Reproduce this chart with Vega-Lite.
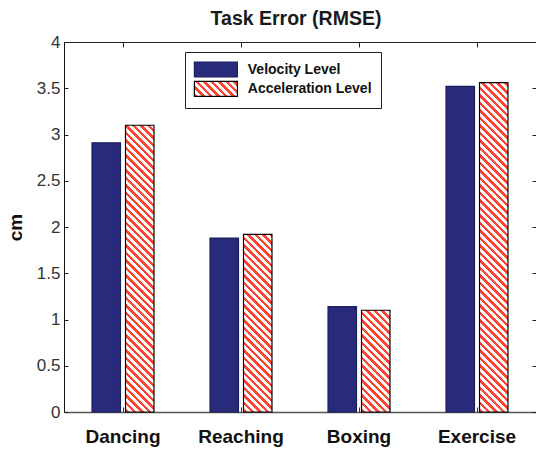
{
"$schema": "https://vega.github.io/schema/vega-lite/v6.json",
"width": 472, "height": 370,
"autosize": {"type": "none"},
"padding": {"left": 64, "top": 42, "right": 0, "bottom": 37},
"background": "white",
"params": [{"name": "stops", "value": [
{"offset":0,"color":"#f43"},
{"offset":0.01042,"color":"#f43"},{"offset":0.01042,"color":"#fff"},
{"offset":0.02083,"color":"#fff"},{"offset":0.02083,"color":"#f43"},
{"offset":0.03125,"color":"#f43"},{"offset":0.03125,"color":"#fff"},
{"offset":0.04167,"color":"#fff"},{"offset":0.04167,"color":"#f43"},
{"offset":0.05208,"color":"#f43"},{"offset":0.05208,"color":"#fff"},
{"offset":0.0625,"color":"#fff"},{"offset":0.0625,"color":"#f43"},
{"offset":0.07292,"color":"#f43"},{"offset":0.07292,"color":"#fff"},
{"offset":0.08333,"color":"#fff"},{"offset":0.08333,"color":"#f43"},
{"offset":0.09375,"color":"#f43"},{"offset":0.09375,"color":"#fff"},
{"offset":0.10417,"color":"#fff"},{"offset":0.10417,"color":"#f43"},
{"offset":0.11458,"color":"#f43"},{"offset":0.11458,"color":"#fff"},
{"offset":0.125,"color":"#fff"},{"offset":0.125,"color":"#f43"},
{"offset":0.13542,"color":"#f43"},{"offset":0.13542,"color":"#fff"},
{"offset":0.14583,"color":"#fff"},{"offset":0.14583,"color":"#f43"},
{"offset":0.15625,"color":"#f43"},{"offset":0.15625,"color":"#fff"},
{"offset":0.16667,"color":"#fff"},{"offset":0.16667,"color":"#f43"},
{"offset":0.17708,"color":"#f43"},{"offset":0.17708,"color":"#fff"},
{"offset":0.1875,"color":"#fff"},{"offset":0.1875,"color":"#f43"},
{"offset":0.19792,"color":"#f43"},{"offset":0.19792,"color":"#fff"},
{"offset":0.20833,"color":"#fff"},{"offset":0.20833,"color":"#f43"},
{"offset":0.21875,"color":"#f43"},{"offset":0.21875,"color":"#fff"},
{"offset":0.22917,"color":"#fff"},{"offset":0.22917,"color":"#f43"},
{"offset":0.23958,"color":"#f43"},{"offset":0.23958,"color":"#fff"},
{"offset":0.25,"color":"#fff"},{"offset":0.25,"color":"#f43"},
{"offset":0.26042,"color":"#f43"},{"offset":0.26042,"color":"#fff"},
{"offset":0.27083,"color":"#fff"},{"offset":0.27083,"color":"#f43"},
{"offset":0.28125,"color":"#f43"},{"offset":0.28125,"color":"#fff"},
{"offset":0.29167,"color":"#fff"},{"offset":0.29167,"color":"#f43"},
{"offset":0.30208,"color":"#f43"},{"offset":0.30208,"color":"#fff"},
{"offset":0.3125,"color":"#fff"},{"offset":0.3125,"color":"#f43"},
{"offset":0.32292,"color":"#f43"},{"offset":0.32292,"color":"#fff"},
{"offset":0.33333,"color":"#fff"},{"offset":0.33333,"color":"#f43"},
{"offset":0.34375,"color":"#f43"},{"offset":0.34375,"color":"#fff"},
{"offset":0.35417,"color":"#fff"},{"offset":0.35417,"color":"#f43"},
{"offset":0.36458,"color":"#f43"},{"offset":0.36458,"color":"#fff"},
{"offset":0.375,"color":"#fff"},{"offset":0.375,"color":"#f43"},
{"offset":0.38542,"color":"#f43"},{"offset":0.38542,"color":"#fff"},
{"offset":0.39583,"color":"#fff"},{"offset":0.39583,"color":"#f43"},
{"offset":0.40625,"color":"#f43"},{"offset":0.40625,"color":"#fff"},
{"offset":0.41667,"color":"#fff"},{"offset":0.41667,"color":"#f43"},
{"offset":0.42708,"color":"#f43"},{"offset":0.42708,"color":"#fff"},
{"offset":0.4375,"color":"#fff"},{"offset":0.4375,"color":"#f43"},
{"offset":0.44792,"color":"#f43"},{"offset":0.44792,"color":"#fff"},
{"offset":0.45833,"color":"#fff"},{"offset":0.45833,"color":"#f43"},
{"offset":0.46875,"color":"#f43"},{"offset":0.46875,"color":"#fff"},
{"offset":0.47917,"color":"#fff"},{"offset":0.47917,"color":"#f43"},
{"offset":0.48958,"color":"#f43"},{"offset":0.48958,"color":"#fff"},
{"offset":0.5,"color":"#fff"},{"offset":0.5,"color":"#f43"},
{"offset":0.51042,"color":"#f43"},{"offset":0.51042,"color":"#fff"},
{"offset":0.52083,"color":"#fff"},{"offset":0.52083,"color":"#f43"},
{"offset":0.53125,"color":"#f43"},{"offset":0.53125,"color":"#fff"},
{"offset":0.54167,"color":"#fff"},{"offset":0.54167,"color":"#f43"},
{"offset":0.55208,"color":"#f43"},{"offset":0.55208,"color":"#fff"},
{"offset":0.5625,"color":"#fff"},{"offset":0.5625,"color":"#f43"},
{"offset":0.57292,"color":"#f43"},{"offset":0.57292,"color":"#fff"},
{"offset":0.58333,"color":"#fff"},{"offset":0.58333,"color":"#f43"},
{"offset":0.59375,"color":"#f43"},{"offset":0.59375,"color":"#fff"},
{"offset":0.60417,"color":"#fff"},{"offset":0.60417,"color":"#f43"},
{"offset":0.61458,"color":"#f43"},{"offset":0.61458,"color":"#fff"},
{"offset":0.625,"color":"#fff"},{"offset":0.625,"color":"#f43"},
{"offset":0.63542,"color":"#f43"},{"offset":0.63542,"color":"#fff"},
{"offset":0.64583,"color":"#fff"},{"offset":0.64583,"color":"#f43"},
{"offset":0.65625,"color":"#f43"},{"offset":0.65625,"color":"#fff"},
{"offset":0.66667,"color":"#fff"},{"offset":0.66667,"color":"#f43"},
{"offset":0.67708,"color":"#f43"},{"offset":0.67708,"color":"#fff"},
{"offset":0.6875,"color":"#fff"},{"offset":0.6875,"color":"#f43"},
{"offset":0.69792,"color":"#f43"},{"offset":0.69792,"color":"#fff"},
{"offset":0.70833,"color":"#fff"},{"offset":0.70833,"color":"#f43"},
{"offset":0.71875,"color":"#f43"},{"offset":0.71875,"color":"#fff"},
{"offset":0.72917,"color":"#fff"},{"offset":0.72917,"color":"#f43"},
{"offset":0.73958,"color":"#f43"},{"offset":0.73958,"color":"#fff"},
{"offset":0.75,"color":"#fff"},{"offset":0.75,"color":"#f43"},
{"offset":0.76042,"color":"#f43"},{"offset":0.76042,"color":"#fff"},
{"offset":0.77083,"color":"#fff"},{"offset":0.77083,"color":"#f43"},
{"offset":0.78125,"color":"#f43"},{"offset":0.78125,"color":"#fff"},
{"offset":0.79167,"color":"#fff"},{"offset":0.79167,"color":"#f43"},
{"offset":0.80208,"color":"#f43"},{"offset":0.80208,"color":"#fff"},
{"offset":0.8125,"color":"#fff"},{"offset":0.8125,"color":"#f43"},
{"offset":0.82292,"color":"#f43"},{"offset":0.82292,"color":"#fff"},
{"offset":0.83333,"color":"#fff"},{"offset":0.83333,"color":"#f43"},
{"offset":0.84375,"color":"#f43"},{"offset":0.84375,"color":"#fff"},
{"offset":0.85417,"color":"#fff"},{"offset":0.85417,"color":"#f43"},
{"offset":0.86458,"color":"#f43"},{"offset":0.86458,"color":"#fff"},
{"offset":0.875,"color":"#fff"},{"offset":0.875,"color":"#f43"},
{"offset":0.88542,"color":"#f43"},{"offset":0.88542,"color":"#fff"},
{"offset":0.89583,"color":"#fff"},{"offset":0.89583,"color":"#f43"},
{"offset":0.90625,"color":"#f43"},{"offset":0.90625,"color":"#fff"},
{"offset":0.91667,"color":"#fff"},{"offset":0.91667,"color":"#f43"},
{"offset":0.92708,"color":"#f43"},{"offset":0.92708,"color":"#fff"},
{"offset":0.9375,"color":"#fff"},{"offset":0.9375,"color":"#f43"},
{"offset":0.94792,"color":"#f43"},{"offset":0.94792,"color":"#fff"},
{"offset":0.95833,"color":"#fff"},{"offset":0.95833,"color":"#f43"},
{"offset":0.96875,"color":"#f43"},{"offset":0.96875,"color":"#fff"},
{"offset":0.97917,"color":"#fff"},{"offset":0.97917,"color":"#f43"},
{"offset":0.98958,"color":"#f43"},{"offset":0.98958,"color":"#fff"},
{"offset":1,"color":"#fff"}
]}],
"title": {"text": "Task Error (RMSE)", "frame": "group", "anchor": "middle", "baseline": "alphabetic", "offset": -11, "dx": -4, "font": "Liberation Sans", "fontSize": 19.5, "fontWeight": "bold", "color": "#1a1a1a"},
"data": {"values": [
{"activity":"Dancing","series":"Velocity Level","value":2.91},
{"activity":"Dancing","series":"Acceleration Level","value":3.10},
{"activity":"Reaching","series":"Velocity Level","value":1.88},
{"activity":"Reaching","series":"Acceleration Level","value":1.92},
{"activity":"Boxing","series":"Velocity Level","value":1.14},
{"activity":"Boxing","series":"Acceleration Level","value":1.10},
{"activity":"Exercise","series":"Velocity Level","value":3.52},
{"activity":"Exercise","series":"Acceleration Level","value":3.56}
]},
"layer": [
{"mark": {"type": "bar", "strokeWidth": 1.2,
  "fill": {"expr": "datum.series === 'Acceleration Level' ? {gradient: 'linear', x1: 0, y1: 1, x2: 360*bandwidth('xOffset')/(pow(bandwidth('xOffset'),2)+pow(scale('y',0)-scale('y',datum.value),2)), y2: 1-360*(scale('y',0)-scale('y',datum.value))/(pow(bandwidth('xOffset'),2)+pow(scale('y',0)-scale('y',datum.value),2)), stops: stops} : (datum.value === 'Acceleration Level' || datum.label === 'Acceleration Level') ? {gradient: 'linear', x1: 0, y1: 1, x2: 7.464, y2: -1.6037, stops: stops} : '#282b7a'"}},
 "encoding": {
  "x": {"field": "activity", "type": "nominal",
        "scale": {"domain": ["Dancing","Reaching","Boxing","Exercise"], "paddingInner": 0.475, "paddingOuter": 0.2375},
        "axis": {"orient": "bottom", "title": null, "labelFont": "Liberation Sans", "labelFontSize": 19, "labelFontWeight": "bold", "labelColor": "#111", "labelAngle": 0, "labelPadding": 20, "tickSize": -5, "tickColor": "#333", "domainColor": "#555", "domainWidth": 1.5, "grid": false}},
  "xOffset": {"field": "series", "type": "nominal", "scale": {"domain": ["Velocity Level","Acceleration Level"], "paddingInner": 0.15, "paddingOuter": 0}},
  "y": {"field": "value", "type": "quantitative",
        "scale": {"domain": [0,4], "nice": false, "zero": true},
        "axis": {"orient": "left", "title": "cm", "titleFont": "Liberation Sans", "titleFontSize": 19, "titleFontWeight": "bold", "titleColor": "#111", "titlePadding": 11,
                 "labelFont": "Liberation Sans", "labelFontSize": 17, "labelColor": "#333", "labelPadding": 8, "tickSize": -4, "tickColor": "#222", "domainColor": "#111",
                 "values": [0,0.5,1,1.5,2,2.5,3,3.5,4], "format": ".1~f", "grid": false}},
  "stroke": {"field": "series", "type": "nominal",
        "scale": {"domain": ["Velocity Level","Acceleration Level"], "range": ["#1c1e5e","#000000"]},
        "legend": {"title": null, "orient": "none", "legendX": 121, "legendY": 10, "direction": "vertical", "padding": 9,
                   "fillColor": "white", "strokeColor": "#222",
                   "symbolType": "M-2.867,-1H2.867V1H-2.867Z", "symbolSize": 225, "symbolStrokeWidth": 1.2, "symbolOffset": 13.4,
                   "labelFont": "Liberation Sans", "labelFontSize": 14, "labelFontWeight": "bold", "labelColor": "#111", "labelOffset": 23.4, "rowPadding": -1.7, "labelLimit": 300,
                   "encode": {"symbols": {"update": {"fillOpacity": {"value": 1}}}}}}
 }},
{"mark": {"type": "point", "opacity": 0},
 "encoding": {
  "x": {"field": "activity", "type": "nominal", "axis": {"orient": "top", "title": null, "labels": false, "tickSize": -5, "tickColor": "#222", "domainColor": "#222", "grid": false}},
  "y": {"field": "value", "type": "quantitative", "axis": {"orient": "right", "title": null, "labels": false, "tickSize": -4, "tickColor": "#222", "domainColor": "#222", "values": [0,0.5,1,1.5,2,2.5,3,3.5,4], "grid": false}}
 }}
],
"resolve": {"axis": {"x": "independent", "y": "independent"}}
}
